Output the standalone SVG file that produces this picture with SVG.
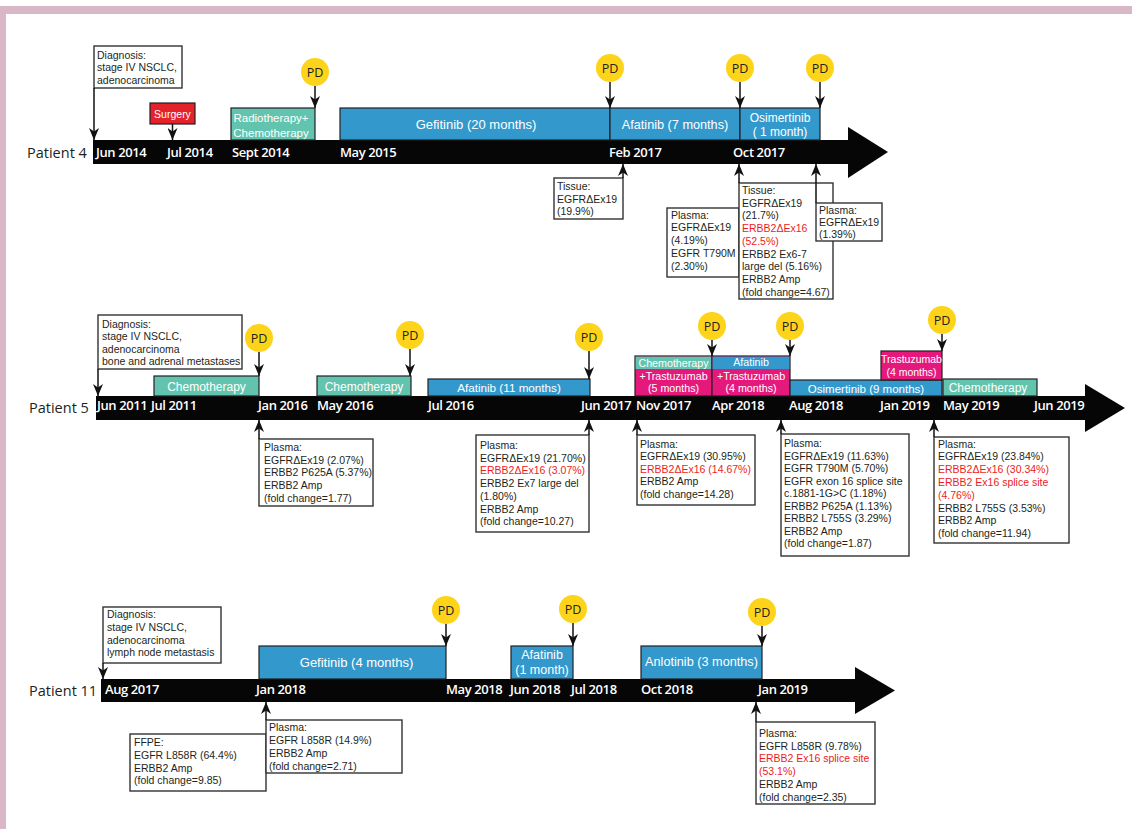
<svg xmlns="http://www.w3.org/2000/svg" width="1132" height="829" viewBox="0 0 1132 829">
<defs>
<style>
.frame{fill:#dab7c7}
.bar{fill:#060606}
.tb{stroke:#231f20;stroke-width:1.2}
.blue{fill:#3399cc}
.teal{fill:#62c4ae}
.pink{fill:#e5197c}
.red{fill:#e4222b}
.tl{font-family:"Liberation Sans",Arial,sans-serif;fill:#fff;text-anchor:middle}
.dl{font-family:"Open Sans","Liberation Sans",sans-serif;font-weight:600;font-size:13px;letter-spacing:-0.4px;fill:#fff}
.pl{font-family:"Open Sans","Liberation Sans",sans-serif;font-size:14.5px;fill:#231f20}
.box{fill:#fff;stroke:#333;stroke-width:1.4}
.bt{font-family:"Liberation Sans",Arial,sans-serif;font-size:10.5px;fill:#231f20}
.rt{fill:#ed1c24}
.pd{fill:#fdd41a}
.pdt{font-family:"Open Sans","Liberation Sans",sans-serif;font-size:12.5px;fill:#231f20;text-anchor:middle}
.conn{stroke:#111;stroke-width:1.5;fill:none;marker-end:url(#ah)}
</style>
<marker id="ah" viewBox="0 0 12 10" refX="12" refY="5" markerWidth="12" markerHeight="10" markerUnits="userSpaceOnUse" orient="auto"><path d="M0,0 L12,5 L0,10 L3.5,5 z" fill="#111"/></marker>
</defs>
<rect width="1132" height="829" fill="#fff"/>
<g id="frame"><rect class="frame" x="0" y="6" width="1132" height="8"/><rect class="frame" x="0" y="6" width="6" height="823"/></g>

<!-- ===== Patient 4 ===== -->
<g id="p4-label"><text class="pl" x="27" y="157.5">Patient 4</text></g>
<g id="p4-timeline">
<rect class="bar" x="93" y="140" width="757" height="24"/>
<polygon class="bar" points="848,127 888,152 848,178"/>
<text class="dl" x="96" y="157">Jun 2014</text>
<text class="dl" x="167" y="157">Jul 2014</text>
<text class="dl" x="232" y="157">Sept 2014</text>
<text class="dl" x="340" y="157">May 2015</text>
<text class="dl" x="609" y="157">Feb 2017</text>
<text class="dl" x="733" y="157">Oct 2017</text>
</g>
<g id="p4-diagnosis"><rect class="box" x="94" y="46" width="88" height="42"/>
<text class="bt"><tspan x="97" y="59">Diagnosis:</tspan><tspan x="97" y="71.4">stage IV NSCLC,</tspan><tspan x="97" y="83.8">adenocarcinoma</tspan></text></g>
<g id="p4-surgery"><rect class="red tb" x="150" y="103" width="45" height="21"/><text class="tl" x="172.5" y="117.5" font-size="10.5">Surgery</text></g>
<g id="p4-radio"><rect class="teal tb" x="231" y="108" width="84" height="32"/><text class="tl" x="271" y="122" font-size="11.5">Radiotherapy+</text><text class="tl" x="271" y="136.5" font-size="11.5">Chemotherapy</text></g>
<g id="p4-gefitinib"><rect class="blue tb" x="340" y="108" width="270" height="32"/><text class="tl" x="476" y="128.5" font-size="13">Gefitinib (20 months)</text></g>
<g id="p4-afatinib"><rect class="blue tb" x="610" y="108" width="130" height="32"/><text class="tl" x="675" y="128.5" font-size="12.7">Afatinib (7 months)</text></g>
<g id="p4-osimertinib"><rect class="blue tb" x="740" y="108" width="80" height="32"/><text class="tl" x="780" y="121.5" font-size="12">Osimertinib</text><text class="tl" x="780" y="136" font-size="12">( 1 month)</text></g>
<g id="p4-pd1"><circle class="pd" cx="315" cy="72" r="14"/><text class="pdt" x="315" y="76.5">PD</text></g>
<g id="p4-pd2"><circle class="pd" cx="610" cy="68" r="14"/><text class="pdt" x="610" y="72.5">PD</text></g>
<g id="p4-pd3"><circle class="pd" cx="740" cy="68" r="14"/><text class="pdt" x="740" y="72.5">PD</text></g>
<g id="p4-pd4"><circle class="pd" cx="820" cy="68" r="14"/><text class="pdt" x="820" y="72.5">PD</text></g>
<g id="p4-tissue1"><rect class="box" x="554" y="178" width="69" height="41"/>
<text class="bt"><tspan x="557" y="190">Tissue:</tspan><tspan x="557" y="202.5">EGFRΔEx19</tspan><tspan x="557" y="215">(19.9%)</tspan></text></g>
<g id="p4-plasma1"><rect class="box" x="667" y="208" width="72" height="69"/>
<text class="bt"><tspan x="671" y="218.5">Plasma:</tspan><tspan x="671" y="231.3">EGFRΔEx19</tspan><tspan x="671" y="244.1">(4.19%)</tspan><tspan x="671" y="256.9">EGFR T790M</tspan><tspan x="671" y="269.7">(2.30%)</tspan></text></g>
<g id="p4-tissue2"><rect class="box" x="739" y="183" width="94" height="116"/>
<text class="bt"><tspan x="742" y="194">Tissue:</tspan><tspan x="742" y="206.7">EGFRΔEx19</tspan><tspan x="742" y="219.4">(21.7%)</tspan><tspan x="742" y="232.1" class="rt">ERBB2ΔEx16</tspan><tspan x="742" y="244.8" class="rt">(52.5%)</tspan><tspan x="742" y="257.5">ERBB2 Ex6-7</tspan><tspan x="742" y="270.2">large del (5.16%)</tspan><tspan x="742" y="282.9">ERBB2 Amp</tspan><tspan x="742" y="295.6">(fold change=4.67)</tspan></text></g>
<g id="p4-plasma2"><rect class="box" x="816" y="203" width="66" height="38"/>
<text class="bt"><tspan x="819" y="213.5">Plasma:</tspan><tspan x="819" y="225.8">EGFRΔEx19</tspan><tspan x="819" y="238.1">(1.39%)</tspan></text></g>

<!-- ===== Patient 5 ===== -->
<g id="p5-label"><text class="pl" x="29" y="413">Patient 5</text></g>
<g id="p5-timeline">
<rect class="bar" x="96" y="396" width="990" height="24"/>
<polygon class="bar" points="1085,384 1125,408 1085,432"/>
<text class="dl" x="97" y="410">Jun 2011</text>
<text class="dl" x="151" y="410">Jul 2011</text>
<text class="dl" x="258" y="410">Jan 2016</text>
<text class="dl" x="317" y="410">May 2016</text>
<text class="dl" x="428" y="410">Jul 2016</text>
<text class="dl" x="581" y="410">Jun 2017</text>
<text class="dl" x="636" y="410">Nov 2017</text>
<text class="dl" x="712" y="410">Apr 2018</text>
<text class="dl" x="789" y="410">Aug 2018</text>
<text class="dl" x="880" y="410">Jan 2019</text>
<text class="dl" x="943" y="410">May 2019</text>
<text class="dl" x="1034" y="410">Jun 2019</text>
</g>
<g id="p5-diagnosis"><rect class="box" x="98" y="315" width="144" height="54"/>
<text class="bt"><tspan x="102" y="328">Diagnosis:</tspan><tspan x="102" y="340.4">stage IV NSCLC,</tspan><tspan x="102" y="352.8">adenocarcinoma</tspan><tspan x="102" y="365.2">bone and adrenal metastases</tspan></text></g>
<g id="p5-chemo1"><rect class="teal tb" x="154" y="376" width="105" height="20"/><text class="tl" x="206.5" y="391" font-size="12">Chemotherapy</text></g>
<g id="p5-chemo2"><rect class="teal tb" x="317" y="376" width="94" height="20"/><text class="tl" x="364" y="391" font-size="12">Chemotherapy</text></g>
<g id="p5-afatinib1"><rect class="blue tb" x="428" y="379" width="162" height="17"/><text class="tl" x="509" y="392" font-size="11.7">Afatinib (11 months)</text></g>
<g id="p5-chemo-trast"><rect class="pink tb" x="635" y="356" width="77" height="40"/><rect class="teal" x="635.6" y="356.6" width="75.8" height="12.4"/>
<text class="tl" x="673.5" y="366.5" font-size="10.7">Chemotherapy</text><text class="tl" x="673.5" y="379.5" font-size="10.7">+Trastuzumab</text><text class="tl" x="673.5" y="392" font-size="10.7">(5 months)</text></g>
<g id="p5-afa-trast"><rect class="pink tb" x="712" y="356" width="78" height="40"/><rect class="blue" x="712.6" y="356.6" width="76.8" height="12.4"/>
<text class="tl" x="751" y="366" font-size="10.7">Afatinib</text><text class="tl" x="751" y="379.5" font-size="10.7">+Trastuzumab</text><text class="tl" x="751" y="392" font-size="10.7">(4 months)</text></g>
<g id="p5-osimertinib"><rect class="blue tb" x="790" y="380" width="152" height="16"/><text class="tl" x="866" y="392.5" font-size="11.5">Osimertinib (9 months)</text></g>
<g id="p5-trastuzumab"><rect class="pink tb" x="881" y="351" width="61" height="29"/><text class="tl" x="911.5" y="363" font-size="10.5">Trastuzumab</text><text class="tl" x="911.5" y="376" font-size="10.5">(4 months)</text></g>
<g id="p5-chemo3"><rect class="teal tb" x="943" y="379" width="94" height="17"/><text class="tl" x="988" y="391.5" font-size="12">Chemotherapy</text></g>
<g id="p5-pd1"><circle class="pd" cx="259" cy="338" r="14"/><text class="pdt" x="259" y="342.5">PD</text></g>
<g id="p5-pd2"><circle class="pd" cx="410" cy="335" r="14"/><text class="pdt" x="410" y="339.5">PD</text></g>
<g id="p5-pd3"><circle class="pd" cx="589" cy="337" r="14"/><text class="pdt" x="589" y="341.5">PD</text></g>
<g id="p5-pd4"><circle class="pd" cx="712" cy="326" r="14"/><text class="pdt" x="712" y="330.5">PD</text></g>
<g id="p5-pd5"><circle class="pd" cx="790" cy="326" r="14"/><text class="pdt" x="790" y="330.5">PD</text></g>
<g id="p5-pd6"><circle class="pd" cx="942" cy="320" r="14"/><text class="pdt" x="942" y="324.5">PD</text></g>
<g id="p5-plasma1"><rect class="box" x="259" y="439" width="114" height="67"/>
<text class="bt"><tspan x="264" y="451">Plasma:</tspan><tspan x="264" y="463.7">EGFRΔEx19 (2.07%)</tspan><tspan x="264" y="476.4">ERBB2 P625A (5.37%)</tspan><tspan x="264" y="489.1">ERBB2 Amp</tspan><tspan x="264" y="501.8">(fold change=1.77)</tspan></text></g>
<g id="p5-plasma2"><rect class="box" x="476" y="435" width="113" height="97"/>
<text class="bt"><tspan x="480" y="449">Plasma:</tspan><tspan x="480" y="461.7">EGFRΔEx19 (21.70%)</tspan><tspan x="480" y="474.4" class="rt">ERBB2ΔEx16 (3.07%)</tspan><tspan x="480" y="487.1">ERBB2 Ex7 large del</tspan><tspan x="480" y="499.8">(1.80%)</tspan><tspan x="480" y="512.5">ERBB2 Amp</tspan><tspan x="480" y="525.2">(fold change=10.27)</tspan></text></g>
<g id="p5-plasma3"><rect class="box" x="637" y="435" width="118" height="70"/>
<text class="bt"><tspan x="640" y="447.5">Plasma:</tspan><tspan x="640" y="460">EGFRΔEx19 (30.95%)</tspan><tspan x="640" y="472.5" class="rt">ERBB2ΔEx16 (14.67%)</tspan><tspan x="640" y="485">ERBB2 Amp</tspan><tspan x="640" y="497.5">(fold change=14.28)</tspan></text></g>
<g id="p5-plasma4"><rect class="box" x="781" y="434" width="128" height="122"/>
<text class="bt"><tspan x="784" y="447">Plasma:</tspan><tspan x="784" y="459.5">EGFRΔEx19 (11.63%)</tspan><tspan x="784" y="472">EGFR T790M (5.70%)</tspan><tspan x="784" y="484.5">EGFR exon 16 splice site</tspan><tspan x="784" y="497">c.1881-1G&gt;C (1.18%)</tspan><tspan x="784" y="509.5">ERBB2 P625A (1.13%)</tspan><tspan x="784" y="522">ERBB2 L755S (3.29%)</tspan><tspan x="784" y="534.5">ERBB2 Amp</tspan><tspan x="784" y="547">(fold change=1.87)</tspan></text></g>
<g id="p5-plasma5"><rect class="box" x="934" y="437" width="135" height="106"/>
<text class="bt"><tspan x="938" y="447.5">Plasma:</tspan><tspan x="938" y="460.3">EGFRΔEx19 (23.84%)</tspan><tspan x="938" y="473.1" class="rt">ERBB2ΔEx16 (30.34%)</tspan><tspan x="938" y="485.9" class="rt">ERBB2 Ex16 splice site</tspan><tspan x="938" y="498.7" class="rt">(4.76%)</tspan><tspan x="938" y="511.5">ERBB2 L755S (3.53%)</tspan><tspan x="938" y="524.3">ERBB2 Amp</tspan><tspan x="938" y="537.1">(fold change=11.94)</tspan></text></g>

<!-- ===== Patient 11 ===== -->
<g id="p11-label"><text class="pl" x="29" y="696">Patient 11</text></g>
<g id="p11-timeline">
<rect class="bar" x="101" y="679" width="756" height="23"/>
<polygon class="bar" points="855,667 895,690.5 855,714"/>
<text class="dl" x="105" y="694">Aug 2017</text>
<text class="dl" x="256" y="694">Jan 2018</text>
<text class="dl" x="446" y="694">May 2018</text>
<text class="dl" x="510" y="694">Jun 2018</text>
<text class="dl" x="571" y="694">Jul 2018</text>
<text class="dl" x="641" y="694">Oct 2018</text>
<text class="dl" x="758" y="694">Jan 2019</text>
</g>
<g id="p11-diagnosis"><rect class="box" x="103" y="607" width="118" height="56"/>
<text class="bt"><tspan x="107" y="618">Diagnosis:</tspan><tspan x="107" y="630.8">stage IV NSCLC,</tspan><tspan x="107" y="643.6">adenocarcinoma</tspan><tspan x="107" y="656.4">lymph node metastasis</tspan></text></g>
<g id="p11-gefitinib"><rect class="blue tb" x="259" y="646" width="187" height="33"/><text class="tl" x="356.5" y="666.5" font-size="13">Gefitinib (4 months)</text></g>
<g id="p11-afatinib"><rect class="blue tb" x="511" y="646" width="62" height="33"/><text class="tl" x="542" y="659" font-size="12.5">Afatinib</text><text class="tl" x="542" y="674" font-size="12.5">(1 month)</text></g>
<g id="p11-anlotinib"><rect class="blue tb" x="641" y="646" width="121" height="33"/><text class="tl" x="701.5" y="666" font-size="12.7">Anlotinib (3 months)</text></g>
<g id="p11-pd1"><circle class="pd" cx="446" cy="610" r="14"/><text class="pdt" x="446" y="614.5">PD</text></g>
<g id="p11-pd2"><circle class="pd" cx="573" cy="609" r="14"/><text class="pdt" x="573" y="613.5">PD</text></g>
<g id="p11-pd3"><circle class="pd" cx="762" cy="612" r="14"/><text class="pdt" x="762" y="616.5">PD</text></g>
<g id="p11-ffpe"><rect class="box" x="130" y="734" width="136" height="57"/>
<text class="bt"><tspan x="134" y="746">FFPE:</tspan><tspan x="134" y="758.8">EGFR L858R (64.4%)</tspan><tspan x="134" y="771.6">ERBB2 Amp</tspan><tspan x="134" y="784.4">(fold change=9.85)</tspan></text></g>
<g id="p11-plasma1"><rect class="box" x="266" y="720" width="136" height="53"/>
<text class="bt"><tspan x="269" y="731">Plasma:</tspan><tspan x="269" y="743.9">EGFR L858R (14.9%)</tspan><tspan x="269" y="756.8">ERBB2 Amp</tspan><tspan x="269" y="769.7">(fold change=2.71)</tspan></text></g>
<g id="p11-plasma2"><rect class="box" x="756" y="722" width="119" height="82"/>
<text class="bt"><tspan x="759" y="737">Plasma:</tspan><tspan x="759" y="749.7">EGFR L858R (9.78%)</tspan><tspan x="759" y="762.4" class="rt">ERBB2 Ex16 splice site</tspan><tspan x="759" y="775.1" class="rt">(53.1%)</tspan><tspan x="759" y="787.8">ERBB2 Amp</tspan><tspan x="759" y="800.5">(fold change=2.35)</tspan></text></g>

<g id="connectors">
<path class="conn" d="M94,88 V140"/>
<path class="conn" d="M172.5,124 V140"/>
<path class="conn" d="M315,86 V108"/>
<path class="conn" d="M610,82 V108"/>
<path class="conn" d="M740,82 V108"/>
<path class="conn" d="M820,82 V108"/>
<path class="conn" d="M623,178 V164"/>
<path class="conn" d="M739,183 V164"/>
<path class="conn" d="M816,203 V164"/>
<path class="conn" d="M98,369 V396"/>
<path class="conn" d="M259,352 V376"/>
<path class="conn" d="M410,349 V376"/>
<path class="conn" d="M589,351 V379"/>
<path class="conn" d="M712,340 V356"/>
<path class="conn" d="M790,340 V356"/>
<path class="conn" d="M942,334 V351"/>
<path class="conn" d="M259,439 V420"/>
<path class="conn" d="M589,435 V420"/>
<path class="conn" d="M637,435 V420"/>
<path class="conn" d="M781,434 V420"/>
<path class="conn" d="M934,437 V420"/>
<path class="conn" d="M103,663 V679"/>
<path class="conn" d="M446,624 V646"/>
<path class="conn" d="M573,623 V646"/>
<path class="conn" d="M762,626 V646"/>
<path class="conn" d="M266,720 V702"/>
<path class="conn" d="M756,722 V702"/>
</g>
</svg>
